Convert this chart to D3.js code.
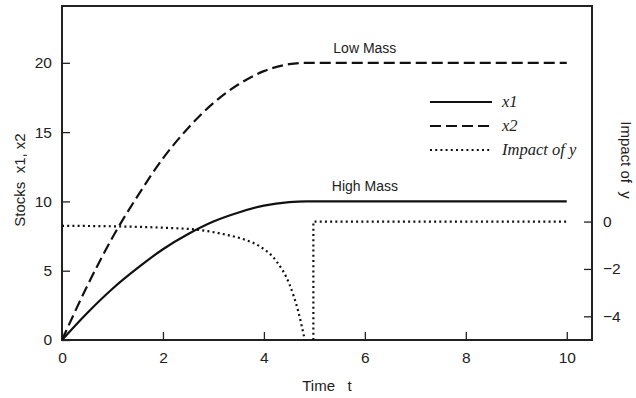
<!DOCTYPE html>
<html>
<head>
<meta charset="utf-8">
<script src="https://cdn.jsdelivr.net/npm/d3@7"></script>
<style>
  body { margin: 0; background: #fff; }
  svg { display: block; }
  text { font-family: "Liberation Sans", Arial, sans-serif; fill: #222; }
  .leg { font-family: "Liberation Serif", "Times New Roman", serif; font-style: italic; }
</style>
</head>
<body>
<script>
// values
var time = [0, 0.5, 1, 1.5, 2, 2.5, 3, 3.5, 4, 4.5, 4.85, 6, 8, 10];
var x1 = [0, 1.95, 3.7, 5.2, 6.55, 7.65, 8.55, 9.2, 9.7, 9.95, 10, 10, 10, 10];
var x2 = [0, 3.9, 7.4, 10.4, 13.1, 15.3, 17.1, 18.45, 19.4, 19.9, 20, 20, 20, 20];
// impact of y (right axis), falls off the bottom before the jump back to 0
var impactT = [0, 1, 2, 2.7, 3.26, 3.6, 3.92, 4.25, 4.51, 4.68, 4.81];
var impactV = [-0.18, -0.2, -0.26, -0.35, -0.56, -0.75, -1.05, -1.68, -2.67, -3.79, -5.0];
var jumpT = [4.98, 4.98, 10];
var jumpV = [-5.0, 0, 0];

var xTicks = [0, 2, 4, 6, 8, 10];
var yTicks = [0, 5, 10, 15, 20];
var rTicks = [0, -2, -4];
var legendItems = ["x1", "x2", "Impact of y"];

var width = 636, height = 398;
var margin = {top: 6, right: 44, bottom: 58, left: 62};

var svg = d3.select("body").append("svg")
    .attr("width", width)
    .attr("height", height);

var x = d3.scaleLinear().domain([0, 10.5]).range([margin.left, width - margin.right]);
var y = d3.scaleLinear().domain([0, 24.1]).range([height - margin.bottom, margin.top]);
var yr = d3.scaleLinear().domain([-5, 9.1]).range([height - margin.bottom, margin.top]);

svg.append("clipPath").attr("id", "plot")
    .append("rect")
    .attr("x", margin.left).attr("y", margin.top)
    .attr("width", width - margin.left - margin.right)
    .attr("height", height - margin.top - margin.bottom);

// axes, ticks drawn inward
var bottom = svg.append("g")
    .attr("transform", "translate(0," + (height - margin.bottom) + ")")
    .call(d3.axisBottom(x).tickValues(xTicks).tickSizeInner(-8).tickSizeOuter(0).tickPadding(12));
var left = svg.append("g")
    .attr("transform", "translate(" + margin.left + ",0)")
    .call(d3.axisLeft(y).tickValues(yTicks).tickSizeInner(-8).tickSizeOuter(0).tickPadding(10));
var right = svg.append("g")
    .attr("transform", "translate(" + (width - margin.right) + ",0)")
    .call(d3.axisRight(yr).tickValues(rTicks).tickSizeInner(-8).tickSizeOuter(0).tickPadding(11));

[bottom, left, right].forEach(function (g) {
    g.select(".domain").remove();
    g.selectAll("line").attr("stroke", "#222").attr("stroke-width", 1.3);
    g.selectAll("text").attr("font-size", 15.5).attr("fill", "#222")
        .style("font-family", "'Liberation Sans', Arial, sans-serif");
});

svg.append("rect")
    .attr("x", margin.left).attr("y", margin.top)
    .attr("width", width - margin.left - margin.right)
    .attr("height", height - margin.top - margin.bottom)
    .attr("fill", "none")
    .attr("stroke", "#222")
    .attr("stroke-width", 2);

var plot = svg.append("g").attr("clip-path", "url(#plot)");

var lineL = function (vals) {
    return d3.line()
        .x(function (d, i) { return x(time[i]); })
        .y(function (d) { return y(d); })
        .curve(d3.curveMonotoneX)(vals);
};

plot.append("path")
    .attr("d", lineL(x1))
    .attr("fill", "none").attr("stroke", "#111").attr("stroke-width", 2.2);

plot.append("path")
    .attr("d", lineL(x2))
    .attr("fill", "none").attr("stroke", "#111").attr("stroke-width", 2.2)
    .attr("stroke-dasharray", "11,5");

plot.append("path")
    .attr("d", d3.line()
        .x(function (d, i) { return x(impactT[i]); })
        .y(function (d) { return yr(d); })
        .curve(d3.curveMonotoneX)(impactV))
    .attr("fill", "none").attr("stroke", "#111").attr("stroke-width", 2.2)
    .attr("stroke-dasharray", "2,3.2");

plot.append("path")
    .attr("d", d3.line()
        .x(function (d, i) { return x(jumpT[i]); })
        .y(function (d) { return yr(d); })(jumpV))
    .attr("fill", "none").attr("stroke", "#111").attr("stroke-width", 2.2)
    .attr("stroke-dasharray", "2,3.2");

// curve labels
svg.append("text").attr("x", x(6)).attr("y", y(20) - 10)
    .attr("text-anchor", "middle").attr("font-size", 14).text("Low Mass");
svg.append("text").attr("x", x(6)).attr("y", y(10) - 10)
    .attr("text-anchor", "middle").attr("font-size", 14).text("High Mass");

// legend
var dashes = [null, "11,5", "2,3.2"];
var leg = svg.append("g").attr("transform", "translate(430,102)");
legendItems.forEach(function (name, i) {
    leg.append("line")
        .attr("x1", 0).attr("x2", 62)
        .attr("y1", i * 24).attr("y2", i * 24)
        .attr("stroke", "#111").attr("stroke-width", 2.2)
        .attr("stroke-dasharray", dashes[i]);
    leg.append("text").attr("class", "leg")
        .attr("x", 72).attr("y", i * 24 + 5)
        .attr("font-size", 16.5).text(name);
});

// axis titles
svg.append("text")
    .attr("x", (margin.left + width - margin.right) / 2).attr("y", 391)
    .attr("text-anchor", "middle").attr("font-size", 15)
    .attr("xml:space", "preserve").text("Time   t");
svg.append("text")
    .attr("transform", "translate(25,180) rotate(-90)")
    .attr("text-anchor", "middle").attr("font-size", 15)
    .attr("xml:space", "preserve").text("Stocks  x1, x2");
svg.append("text")
    .attr("transform", "translate(621,160) rotate(90)")
    .attr("text-anchor", "middle").attr("font-size", 15)
    .attr("xml:space", "preserve").text("Impact of  y");
</script>
</body>
</html>
